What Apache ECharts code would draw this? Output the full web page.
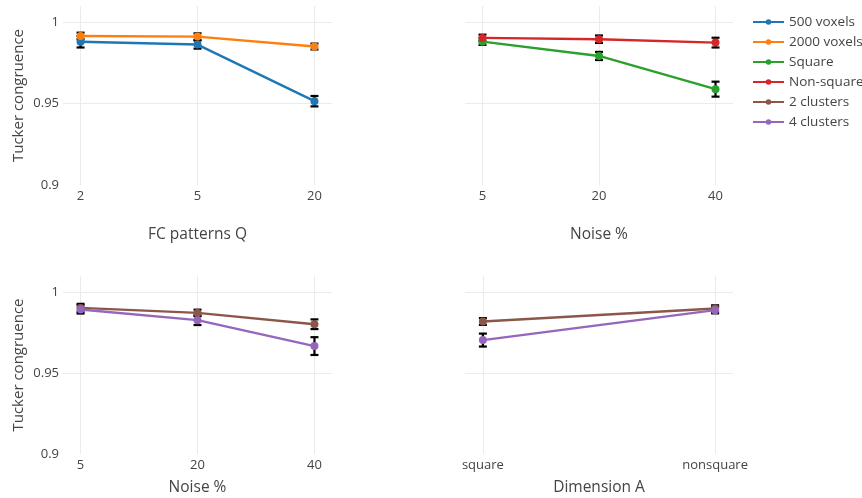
<!DOCTYPE html>
<html>
<head>
<meta charset="utf-8">
<script src="https://cdn.jsdelivr.net/npm/echarts@6/dist/echarts.min.js"></script>
<style>
html,body{margin:0;padding:0;background:#fff;}
#c{width:862px;height:498px;}
</style>
</head>
<body>
<div id="c"></div>
<script>
// Categories / tick labels
var catsQ = ['2', '5', '20'];
var catsNoise = ['5', '20', '40'];
var catsDim = ['square', 'nonsquare'];
var yTicks = [0.9, 0.95, 1];

// Panel 1: FC patterns Q
var v500 = [0.9880, 0.9863, 0.9515];
var e500 = [0.0035, 0.0025, 0.0032];
var v2000 = [0.9916, 0.9912, 0.9851];
var e2000 = [0.0020, 0.0020, 0.0018];
// Panel 2: Noise % (square / non-square)
var vSquare = [0.9881, 0.9793, 0.9589];
var eSquare = [0.0020, 0.0025, 0.0046];
var vNonSquare = [0.9904, 0.9896, 0.9875];
var eNonSquare = [0.0020, 0.0023, 0.0030];
// Panel 3: Noise % (clusters)
var v2cNoise = [0.9903, 0.9872, 0.9802];
var e2cNoise = [0.0025, 0.0020, 0.0030];
var v4cNoise = [0.9893, 0.9827, 0.9667];
var e4cNoise = [0.0025, 0.0030, 0.0055];
// Panel 4: Dimension A
var v2cDim = [0.9819, 0.9899];
var e2cDim = [0.0021, 0.0020];
var v4cDim = [0.9704, 0.9889];
var e4cDim = [0.0040, 0.0020];

var colors = {
  '500 voxels': '#1f77b4',
  '2000 voxels': '#ff7f0e',
  'Square': '#2ca02c',
  'Non-square': '#d62728',
  '2 clusters': '#8c564b',
  '4 clusters': '#9467bd'
};
var FONT = '"Open Sans", "DejaVu Sans", sans-serif';
var TXT = '#444';
var GRIDC = '#ebebeb';

function idx(n){ var a=[]; for(var i=0;i<n;i++) a.push(i); return a; }

function xAxisDef(gi, cats, pad, name, gap){
  var ticks = idx(cats.length);
  return {
    type: 'value', gridIndex: gi, min: -pad, max: cats.length - 1 + pad,
    axisLine: {show: false},
    axisTick: {show: false, customValues: ticks},
    axisLabel: {customValues: ticks, color: TXT, fontSize: 13, fontFamily: FONT, margin: 5,
      formatter: function(v){ return cats[Math.round(v)]; }},
    splitLine: {show: true, lineStyle: {color: GRIDC, width: 1}},
    name: name, nameLocation: 'middle', nameGap: gap,
    nameTextStyle: {color: TXT, fontSize: 15.5, fontFamily: FONT}
  };
}
function yAxisDef(gi, showLabels, name){
  return {
    type: 'value', gridIndex: gi, min: 0.9, max: 1.01,
    axisLine: {show: false},
    axisTick: {show: false, customValues: [0.95, 1]},
    axisLabel: {show: showLabels, customValues: yTicks, color: TXT, fontSize: 13, fontFamily: FONT, margin: 4,
      formatter: function(v){ return String(+v.toFixed(2)); }},
    splitLine: {show: true, lineStyle: {color: GRIDC, width: 1}},
    name: name, nameLocation: 'middle', nameGap: 37, nameRotate: 90,
    nameTextStyle: {color: TXT, fontSize: 15, fontFamily: FONT}
  };
}

function lineSeries(name, gi, vals){
  return {
    type: 'line', name: name, xAxisIndex: gi, yAxisIndex: gi,
    data: vals.map(function(v, i){ return [i, v]; }),
    symbol: 'circle', symbolSize: 8, showSymbol: true,
    lineStyle: {color: colors[name], width: 2.4},
    itemStyle: {color: colors[name]},
    z: 3, animation: false
  };
}
function errSeries(name, gi, vals, errs){
  return {
    type: 'custom', name: name, xAxisIndex: gi, yAxisIndex: gi,
    data: vals.map(function(v, i){ return [i, v - errs[i], v + errs[i]]; }),
    renderItem: function(params, api){
      var lo = api.coord([api.value(0), api.value(1)]);
      var hi = api.coord([api.value(0), api.value(2)]);
      var hw = 4;
      var st = {stroke: '#000', lineWidth: 2.2};
      return {type: 'group', children: [
        {type: 'line', shape: {x1: lo[0], y1: lo[1], x2: hi[0], y2: hi[1]}, style: st},
        {type: 'line', shape: {x1: lo[0]-hw, y1: lo[1], x2: lo[0]+hw, y2: lo[1]}, style: st},
        {type: 'line', shape: {x1: hi[0]-hw, y1: hi[1], x2: hi[0]+hw, y2: hi[1]}, style: st}
      ]};
    },
    itemStyle: {color: colors[name]},
    z: 2, animation: false, silent: true
  };
}

var chart = echarts.init(document.getElementById('c'), null, {renderer: 'canvas'});
chart.setOption({
  backgroundColor: '#fff',
  animation: false,
  grid: [
    {left: 63, top: 6, width: 269, height: 179},
    {left: 465, top: 6, width: 268, height: 179},
    {left: 63, top: 276, width: 269, height: 178},
    {left: 465, top: 276, width: 268, height: 178}
  ],
  xAxis: [
    xAxisDef(0, catsQ, 0.15, 'FC patterns Q', 42),
    xAxisDef(1, catsNoise, 0.15, 'Noise %', 42),
    xAxisDef(2, catsNoise, 0.15, 'Noise %', 26),
    xAxisDef(3, catsDim, 0.077, 'Dimension A', 26)
  ],
  yAxis: [
    yAxisDef(0, true, 'Tucker congruence'),
    yAxisDef(1, false, ''),
    yAxisDef(2, true, 'Tucker congruence'),
    yAxisDef(3, false, '')
  ],
  legend: {
    orient: 'vertical', left: 752, top: 15, width: 300, padding: 0,
    itemWidth: 31, itemHeight: 7, itemGap: 6,
    textStyle: {color: TXT, fontSize: 13.5, fontFamily: FONT, lineHeight: 14, overflow: 'none', width: 200},
    data: ['500 voxels', '2000 voxels', 'Square', 'Non-square', '2 clusters', '4 clusters']
  },
  series: [
    lineSeries('500 voxels', 0, v500),
    lineSeries('2000 voxels', 0, v2000),
    lineSeries('Square', 1, vSquare),
    lineSeries('Non-square', 1, vNonSquare),
    lineSeries('2 clusters', 2, v2cNoise),
    lineSeries('4 clusters', 2, v4cNoise),
    lineSeries('2 clusters', 3, v2cDim),
    lineSeries('4 clusters', 3, v4cDim),
    errSeries('500 voxels', 0, v500, e500),
    errSeries('2000 voxels', 0, v2000, e2000),
    errSeries('Square', 1, vSquare, eSquare),
    errSeries('Non-square', 1, vNonSquare, eNonSquare),
    errSeries('2 clusters', 2, v2cNoise, e2cNoise),
    errSeries('4 clusters', 2, v4cNoise, e4cNoise),
    errSeries('2 clusters', 3, v2cDim, e2cDim),
    errSeries('4 clusters', 3, v4cDim, e4cDim)
  ]
});
</script>
</body>
</html>
